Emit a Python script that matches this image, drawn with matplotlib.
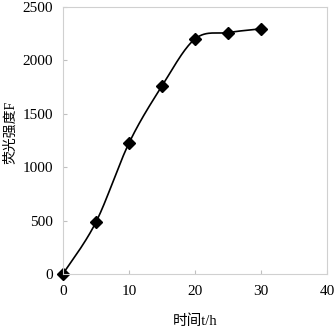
import numpy as np
import matplotlib
matplotlib.use("Agg")
import matplotlib.pyplot as plt

plt.rcParams['font.family'] = ['Liberation Serif', 'Noto Sans CJK SC']

# data
hours = [0, 5, 10, 15, 20, 25, 30]
fluor = [0, 485, 1225, 1760, 2200, 2260, 2295]


def smooth(xs, ys, n=30):
    # Excel-like smoothed line (Catmull-Rom as cubic bezier)
    xs = np.asarray(xs, float)
    ys = np.asarray(ys, float)
    px = np.concatenate([[xs[0]], xs, [xs[-1]]])
    py = np.concatenate([[ys[0]], ys, [ys[-1]]])
    outx, outy = [], []
    t = np.linspace(0, 1, n)
    for i in range(1, len(px) - 2):
        p0 = np.array([px[i], py[i]])
        p3 = np.array([px[i + 1], py[i + 1]])
        p1 = p0 + (np.array([px[i + 1], py[i + 1]]) - np.array([px[i - 1], py[i - 1]])) / 6
        p2 = p3 - (np.array([px[i + 2], py[i + 2]]) - np.array([px[i], py[i]])) / 6
        b = ((1 - t) ** 3)[:, None] * p0 + (3 * (1 - t) ** 2 * t)[:, None] * p1 \
            + (3 * (1 - t) * t ** 2)[:, None] * p2 + (t ** 3)[:, None] * p3
        outx.extend(b[:, 0])
        outy.extend(b[:, 1])
    return outx, outy


fig = plt.figure(figsize=(3.35, 3.30), dpi=100)
ax = fig.add_axes([0.188, 0.170, 0.788, 0.809])

sx, sy = smooth(hours, fluor)
ax.plot(sx, sy, color='black', lw=1.2, clip_on=False)
ax.plot(hours, fluor, linestyle='none', marker='D', ms=6, color='black', clip_on=False)

ax.set_xlim(0, 40)
ax.set_ylim(0, 2500)
ax.set_xticks([0, 10, 20, 30, 40])
ax.set_yticks([0, 500, 1000, 1500, 2000, 2500])
for s in ax.spines.values():
    s.set_color('#d0d0d0')
    s.set_linewidth(0.8)
ax.tick_params(direction='in', length=3, color='#c0c0c0', labelsize=11)
ax.tick_params(axis='x', pad=8)
ax.tick_params(axis='y', pad=7)

ax.set_xlabel('时间t/h', fontsize=10.5, labelpad=12)
ax.set_ylabel('荧光强度F', fontsize=10)
ax.yaxis.set_label_coords(-0.175, 0.53)

fig.savefig('out.png', dpi=100)
